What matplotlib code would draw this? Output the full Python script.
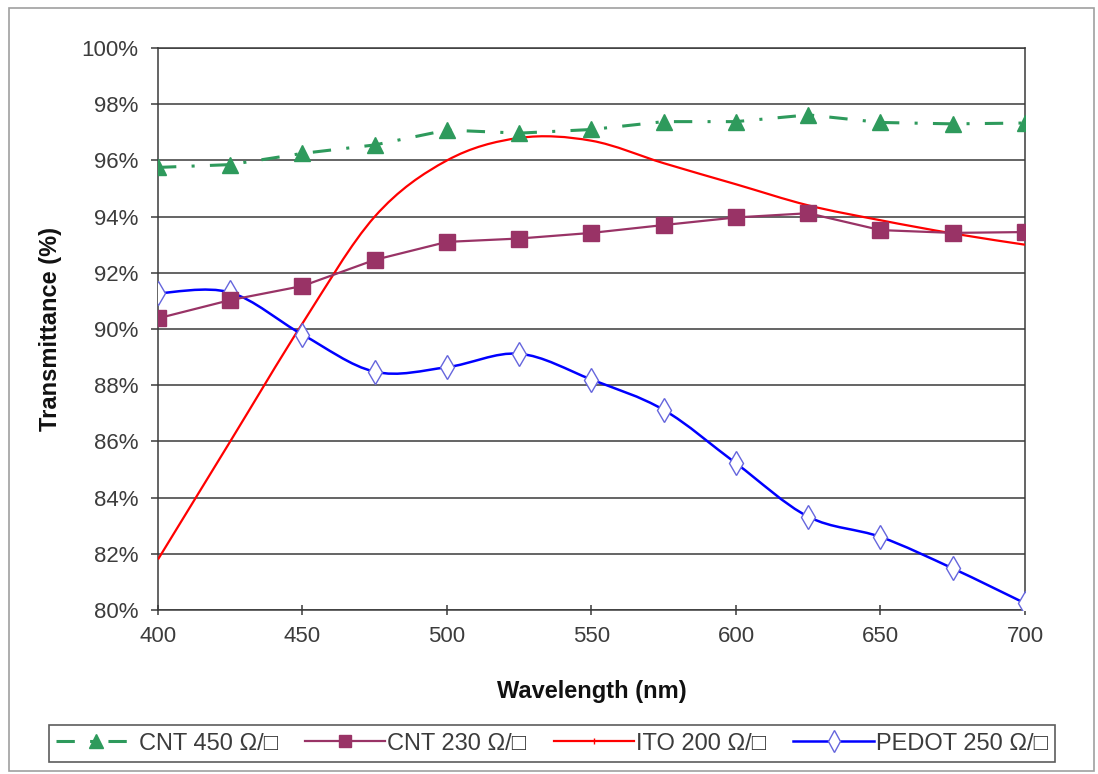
import numpy as np
import matplotlib
matplotlib.use('Agg')
import matplotlib.pyplot as plt
from matplotlib.path import Path
from matplotlib.patches import PathPatch, Rectangle
from matplotlib.lines import Line2D
from matplotlib.ticker import FuncFormatter

plt.rcParams['font.family'] = ['Liberation Sans', 'DejaVu Sans']

wavelength = [400, 425, 450, 475, 500, 525, 550, 575, 600, 625, 650, 675, 700]
cnt450 = [95.75, 95.85, 96.25, 96.55, 97.08, 96.97, 97.1, 97.38, 97.38, 97.62, 97.35, 97.3, 97.33]
cnt230 = [90.38, 91.03, 91.53, 92.46, 93.1, 93.22, 93.42, 93.7, 93.97, 94.12, 93.52, 93.42, 93.45]
ito200 = [81.8, 86.0, 90.2, 94.0, 96.0, 96.8, 96.7, 95.9, 95.15, 94.4, 93.87, 93.4, 93.0]
pedot250 = [91.27, 91.3, 89.8, 88.48, 88.64, 89.12, 88.2, 87.12, 85.22, 83.32, 82.6, 81.48, 80.24]

labels = ['CNT 450 Ω/□', 'CNT 230 Ω/□', 'ITO 200 Ω/□', 'PEDOT 250 Ω/□']
green = '#2e9a5c'
maroon = '#993366'
red = '#ff0000'
blue = '#0000ff'
grid_col = '#3a3a3a'
text_col = '#3c3c3c'


def smooth_path(xs, ys):
    # excel-like smoothed line (catmull-rom as cubic bezier)
    pts = np.column_stack([xs, ys]).astype(float)
    verts = [pts[0]]
    codes = [Path.MOVETO]
    n = len(pts)
    for i in range(n - 1):
        p0 = pts[max(i - 1, 0)]
        p1 = pts[i]
        p2 = pts[i + 1]
        p3 = pts[min(i + 2, n - 1)]
        verts += [p1 + (p2 - p0) / 6, p2 - (p3 - p1) / 6, p2]
        codes += [Path.CURVE4] * 3
    return Path(verts, codes)


fig = plt.figure(figsize=(10.98, 7.74), dpi=100)
ax = fig.add_axes([158 / 1098, 1 - 610 / 774, (1025 - 158) / 1098, (610 - 48) / 774])

fig.patches.append(Rectangle((9 / 1098, 1 - 771 / 774), 1085 / 1098, 763 / 774,
                             transform=fig.transFigure, fill=False,
                             edgecolor='#a0a0a0', lw=1.2))

ax.set_xlim(400, 700)
ax.set_ylim(80, 100)
ax.set_yticks(np.arange(80, 101, 2))
ax.set_xticks(np.arange(400, 701, 50))
ax.yaxis.set_major_formatter(FuncFormatter(lambda v, p: '%d%%' % v))
ax.grid(axis='y', color=grid_col, lw=1.1)
ax.set_axisbelow(True)
for s in ax.spines.values():
    s.set_color(grid_col)
    s.set_linewidth(1.1)
ax.tick_params(axis='y', direction='out', length=5, width=1.1, color=grid_col,
               labelsize=16, labelcolor=text_col, pad=9)
ax.tick_params(axis='x', direction='inout', length=7, width=1.1, color=grid_col,
               labelsize=16, labelcolor=text_col, pad=8)

# ITO and PEDOT are smoothed lines
ax.add_patch(PathPatch(smooth_path(wavelength, ito200), fill=False, edgecolor=red, lw=1.6, zorder=3))
ax.add_patch(PathPatch(smooth_path(wavelength, pedot250), fill=False, edgecolor=blue, lw=1.8, zorder=3))
ax.plot(wavelength, pedot250, ls='none', marker='d', ms=12, mfc='white', mec='#6666dd', mew=1.0, zorder=4)

ax.plot(wavelength, cnt230, color=maroon, lw=1.6, marker='s', ms=11, mfc=maroon, mec=maroon, zorder=4)
ax.plot(wavelength, cnt450, color=green, lw=2.2, ls=(0, (6, 5, 1, 5)), marker='^', ms=12,
        mfc=green, mec=green, zorder=5)

ax.set_xlabel('Wavelength (nm)', fontsize=17, fontweight='bold', color='#111111', labelpad=24)
ax.set_ylabel('Transmittance (%)', fontsize=17, fontweight='bold', color='#111111', labelpad=14)

handles = [
    Line2D([], [], color=green, lw=2.2, ls=(0, (6, 5, 1, 5)), marker='^', ms=10, mfc=green, mec=green),
    Line2D([], [], color=maroon, lw=1.6, marker='s', ms=9, mfc=maroon, mec=maroon),
    Line2D([], [], color=red, lw=1.6, marker='|', ms=4),
    Line2D([], [], color=blue, lw=1.8, marker='d', ms=11, mfc='white', mec='#6666dd'),
]
leg = fig.legend(handles, labels, loc='center', bbox_to_anchor=(552 / 1098, 1 - 743.5 / 774),
                 ncol=4, fontsize=17, frameon=True, fancybox=False, handlelength=3.4,
                 handletextpad=0.1, columnspacing=1.15, borderpad=0.3, labelcolor=text_col)
leg.get_frame().set_edgecolor('#333333')
leg.get_frame().set_linewidth(1.2)

fig.savefig('out.png', dpi=100)
